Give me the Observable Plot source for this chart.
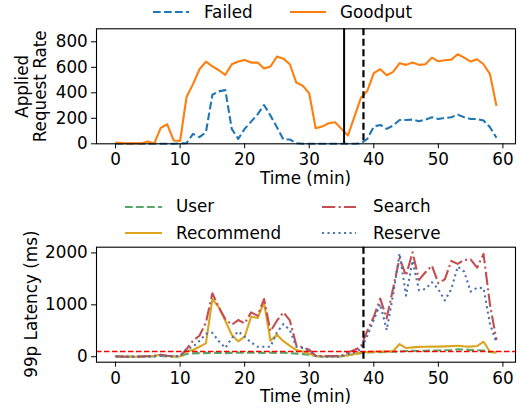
<!DOCTYPE html>
<html><head><meta charset="utf-8">
<script src="https://cdn.jsdelivr.net/npm/d3@7"></script>
<script src="https://cdn.jsdelivr.net/npm/@observablehq/plot@0.6"></script>
<style>
html,body{margin:0;padding:0;background:#fff;}
#root{position:relative;width:520px;height:411px;font-family:"DejaVu Sans";font-size:16.8px;color:#000;overflow:hidden;}
.abs{position:absolute;white-space:nowrap;line-height:1;}
#root svg{display:block;}
</style></head><body><div id="root"></div>
<script>
// ---- data ----
const minutes = [0,1,2,3,4,5,6,7,8,9,10,11,12,13,14,15,16,17,18,19,20,21,22,23,24,25,26,27,28,29,30,31,32,33,34,35,36,37,38,39,40,41,42,43,44,45,46,47,48,49,50,51,52,53,54,55,56,57,58,59];
const xTicks = [0,10,20,30,40,50,60];
const rateTicks = [0,200,400,600,800];
const latencyTicks = [0,1000,2000];

const failed = [0,0,0,0,0,0,0,0,0,0,3,5,78,52,91,385,411,421,117,39,117,174,231,304,221,130,34,34,5,0,0,0,0,0,0,0,0,0,3,39,135,148,117,143,187,187,190,177,190,208,195,203,208,229,208,195,195,182,130,47];
const goodput = [10,5,3,3,3,18,3,125,153,26,23,367,468,585,645,608,577,541,624,645,658,637,637,590,606,684,668,624,480,455,395,122,135,161,169,117,65,213,359,416,554,585,538,564,632,619,637,619,624,676,647,655,660,702,676,645,663,624,546,296];

const user = [5,3,2,2,3,5,8,15,8,5,5,55,65,70,70,75,75,70,75,80,75,80,80,75,80,75,80,70,60,50,40,15,5,5,5,10,30,50,70,85,90,90,95,95,100,110,115,110,115,120,120,125,130,145,140,130,125,120,90,80];
const recommend = [5,0,0,0,5,10,20,40,15,5,5,116,129,193,257,1112,952,694,424,296,386,772,746,1048,309,424,300,210,130,100,60,15,5,5,5,10,30,55,80,90,95,100,100,110,244,167,180,190,193,195,195,200,205,212,200,195,206,289,96,84];
const search = [10,5,0,0,5,10,15,40,20,10,10,148,309,405,662,1222,952,727,617,707,643,855,791,1112,489,694,855,700,220,180,135,20,15,15,15,20,84,129,193,502,770,1120,740,1320,1900,1560,2013,1480,1627,1755,1415,1490,1845,1788,1865,1875,1715,1980,1000,320];
const reserve = [5,0,0,0,5,5,10,25,15,5,19,148,193,309,440,460,300,170,360,489,386,276,193,193,193,469,630,515,193,167,116,19,0,0,0,5,51,84,150,405,710,1016,514,1200,1990,1177,1850,1280,1305,1434,1300,1085,1300,1736,1640,1255,1330,1320,630,265];

const failureTime = 35.4;     // solid line
const mitigationTime = 38.4;  // dashed line
const sloLatency = 100;

// ---- styles ----
const FONT = "DejaVu Sans";
const FS = 16.8;
const topSeries = [
  {name:"Failed", values: failed, color:"#1f77b4", dash:"7.7,3.3"},
  {name:"Goodput", values: goodput, color:"#ff7f0e", dash:null}
];
const botSeries = [
  {name:"User", values: user, color:"#55a868", dash:"7.7,3.3"},
  {name:"Recommend", values: recommend, color:"#daa520", dash:null},
  {name:"Search", values: search, color:"#c44e52", dash:"13.3,3.3,2.1,3.3"},
  {name:"Reserve", values: reserve, color:"#4c72b0", dash:"2.1,3.4"}
];

const root = document.getElementById("root");

function rows(values){ return values.map((v,i)=>({t: minutes[i], v})); }

function lineMarks(series){
  return series.map(s => Plot.lineY(rows(s.values), {
    x:"t", y:"v", stroke: s.color, strokeWidth: 2.1,
    strokeDasharray: s.dash || undefined, strokeLinecap: "butt", strokeLinejoin:"round"
  }));
}

function panel({top, height, marginTop, marginBottom, yDomain, yTicks, marks}){
  const svg = Plot.plot({
    width: 520, height,
    marginLeft: 96, marginRight: 5, marginTop, marginBottom,
    style: {fontFamily: FONT, fontSize: FS + "px", color: "black", background: "transparent", overflow: "visible"},
    x: {domain: [-2.95, 61.95], ticks: xTicks, tickSize: 5, tickPadding: 4.7, label: null, tickFormat: d => String(d)},
    y: {domain: yDomain, ticks: yTicks, tickSize: 5, tickPadding: 3.7, label: null, tickFormat: d => String(d)},
    marks
  });
  svg.style.position = "absolute";
  svg.style.left = "0px";
  svg.style.top = top + "px";
  root.appendChild(svg);
}

// top panel: frame y 28.3 .. 143.3
panel({
  top: 24, height: 166, marginTop: 4.3, marginBottom: 46.7,
  yDomain: [0, 902], yTicks: rateTicks,
  marks: [
    ...lineMarks(topSeries),
    Plot.ruleX([failureTime], {stroke: "black", strokeWidth: 2}),
    Plot.ruleX([mitigationTime], {stroke: "black", strokeWidth: 2.2, strokeDasharray: "7,3.5"}),
    Plot.frame({stroke: "black", strokeWidth: 1.1})
  ]
});

// bottom panel: frame y 246.7 .. 361.7
panel({
  top: 244, height: 167, marginTop: 2.7, marginBottom: 49.3,
  yDomain: [-105, 2110], yTicks: latencyTicks,
  marks: [
    ...lineMarks(botSeries),
    Plot.ruleY([sloLatency], {stroke: "red", strokeWidth: 1.5, strokeDasharray: "5.5,2.5"}),
    Plot.ruleX([mitigationTime], {stroke: "black", strokeWidth: 2.2, strokeDasharray: "7,3.5"}),
    Plot.frame({stroke: "black", strokeWidth: 1.1})
  ]
});

// ---- text & legends ----
function label(text, left, cy, opts = {}){
  const d = document.createElement("div");
  d.className = "abs";
  d.textContent = text;
  d.style.left = left + "px";
  d.style.top = (cy - FS * 0.48) + "px";
  if (opts.center) { d.style.transform = "translateX(-50%)"; }
  root.appendChild(d);
  return d;
}
function sample(s, x0, x1, cy){
  const ns = "http://www.w3.org/2000/svg";
  const svg = document.createElementNS(ns, "svg");
  svg.setAttribute("width", x1 - x0);
  svg.setAttribute("height", 8);
  svg.style.position = "absolute";
  svg.style.left = x0 + "px";
  svg.style.top = (cy - 4) + "px";
  const l = document.createElementNS(ns, "line");
  l.setAttribute("x1", 0); l.setAttribute("x2", x1 - x0);
  l.setAttribute("y1", 4); l.setAttribute("y2", 4);
  l.setAttribute("stroke", s.color); l.setAttribute("stroke-width", 2.1);
  if (s.dash) l.setAttribute("stroke-dasharray", s.dash);
  svg.appendChild(l);
  root.appendChild(svg);
}

// top legend
sample(topSeries[0], 153, 189, 12);
label(topSeries[0].name, 204, 11.8);
sample(topSeries[1], 290, 326, 12);
label(topSeries[1].name, 340, 11.8);

// bottom legend (2 columns, column-major)
sample(botSeries[0], 125, 162, 206.5);
label(botSeries[0].name, 176, 206.5);
sample(botSeries[1], 125, 162, 232.7);
label(botSeries[1].name, 176, 232.7);
sample(botSeries[2], 322, 356, 206.5);
label(botSeries[2].name, 373, 206.5);
sample(botSeries[3], 322, 356, 232.7);
label(botSeries[3].name, 373, 232.7);

// x titles
label("Time (min)", 305.5, 178.5, {center: true});
label("Time (min)", 305.5, 396.5, {center: true});

// y titles (rotated)
function ytitle(lines, cx, cy){
  const d = document.createElement("div");
  d.className = "abs";
  d.style.lineHeight = "18.3px";
  d.style.textAlign = "center";
  d.style.width = "160px";
  d.innerHTML = lines.map(t => `<div>${t}</div>`).join("");
  const h = 18.3 * lines.length;
  d.style.left = (cx - 80) + "px";
  d.style.top = (cy - h / 2) + "px";
  d.style.height = h + "px";
  d.style.transform = "rotate(-90deg)";
  d.style.transformOrigin = "50% 50%";
  root.appendChild(d);
}
ytitle(["Applied", "Request Rate"], 31, 86);
ytitle(["99p Latency (ms)"], 31, 304);
</script>
</body></html>
